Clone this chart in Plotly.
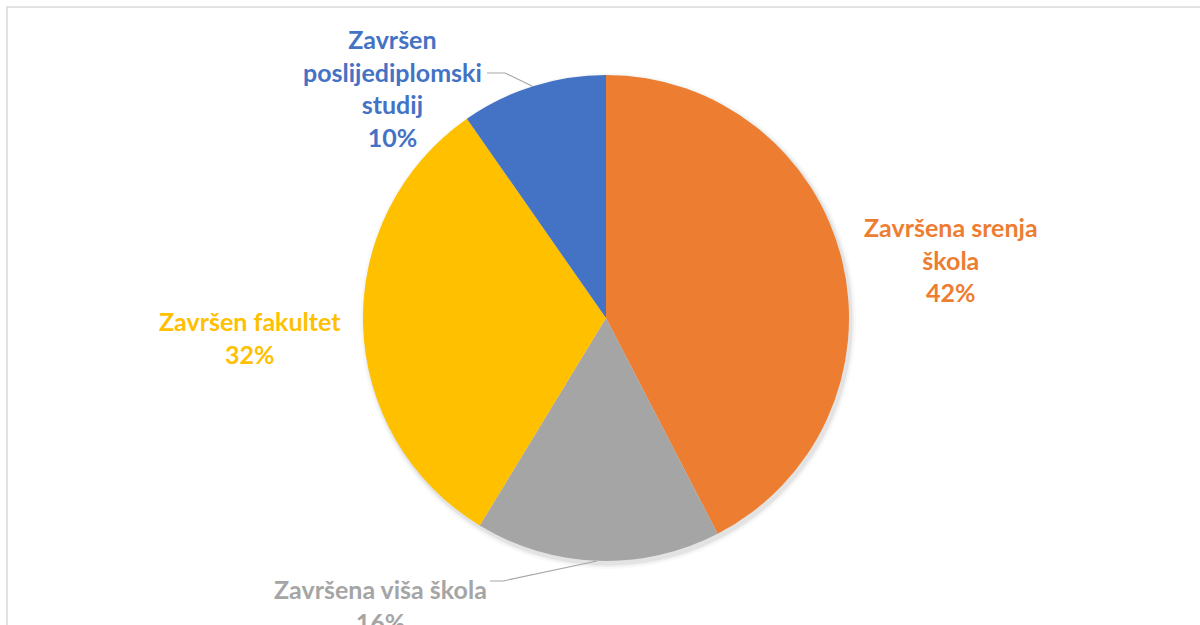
import plotly.graph_objects as go

categories = ["Završena srenja škola", "Završena viša škola", "Završen fakultet", "Završen poslijediplomski studij"]
values = [42.4, 16.3, 31.6, 9.7]
colors = ["#ED7D31", "#A5A5A5", "#FFC000", "#4472C4"]
label_texts = ["Završena srenja<br>škola<br>42%", "Završena viša škola<br>16%", "Završen fakultet<br>32%", "Završen<br>poslijediplomski<br>studij<br>10%"]

W, H = 1200, 625
def px(x): return x / W
def py(y): return 1 - y / H

fig = go.Figure()
# soft shadow behind the pie
for d, a in [(5, 0.025), (3, 0.035), (1.5, 0.05)]:
    fig.add_trace(go.Pie(
        values=[1], sort=False, marker=dict(colors=[f"rgba(0,0,0,{a})"], line=dict(width=0)),
        textinfo="none", hoverinfo="skip", showlegend=False,
        domain=dict(x=[px(363 - d + 2), px(849 + d + 2)], y=[py(561 + d + 3), py(75 - d + 3)]),
    ))
fig.add_trace(go.Pie(
    labels=categories, values=values, sort=False, direction="clockwise", rotation=0,
    marker=dict(colors=colors, line=dict(width=0)),
    textinfo="none", hoverinfo="label+percent", showlegend=False,
    domain=dict(x=[px(363), px(849)], y=[py(561), py(75)]),
))

label_pos = [(951, 260), (380, 605), (250, 338), (392, 88)]
for txt, (x, y), c in zip(label_texts, label_pos, colors):
    fig.add_annotation(x=px(x), y=py(y), xref="paper", yref="paper", text="<b>" + txt + "</b>",
                       showarrow=False, font=dict(family="Lato", size=25, color=c), align="center",
                       xanchor="center", yanchor="middle")

# leader lines
fig.add_shape(type="path", xref="paper", yref="paper",
              path=f"M {px(487)} {py(73)} L {px(505)} {py(73)} L {px(532)} {py(86)}",
              line=dict(color="#A6A6A6", width=1.2))
fig.add_shape(type="path", xref="paper", yref="paper",
              path=f"M {px(490)} {py(581)} L {px(503)} {py(581)} L {px(597)} {py(561)}",
              line=dict(color="#A6A6A6", width=1.2))
# frame
fig.add_shape(type="rect", xref="paper", yref="paper", x0=px(7), y0=py(640), x1=px(1215), y1=py(7),
              line=dict(color="#D9D9D9", width=1.5))

fig.update_layout(width=W, height=H, margin=dict(l=0, r=0, t=0, b=0),
                  paper_bgcolor="white", plot_bgcolor="white")
fig.write_html("out.html", config={"displayModeBar": False},
               post_script="document.body.style.margin='0';")
